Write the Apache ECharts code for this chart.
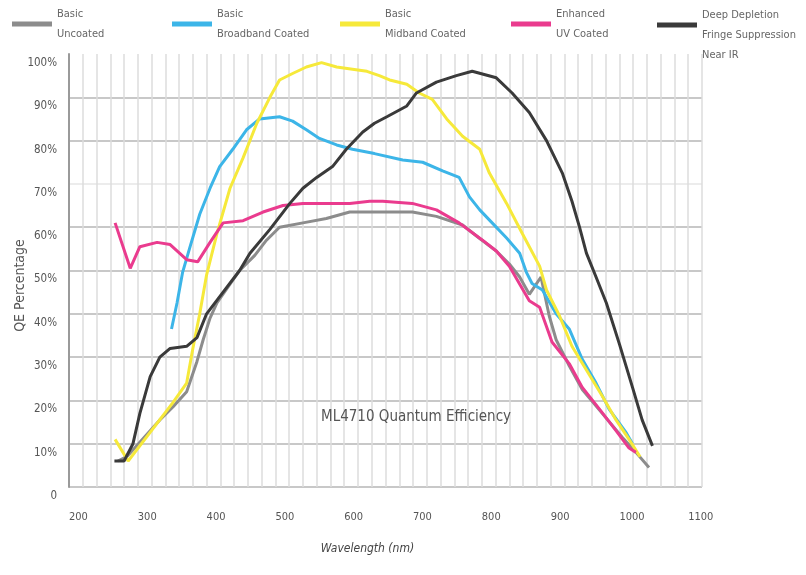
<!DOCTYPE html>
<html>
<head>
<meta charset="utf-8">
<script src="https://cdn.jsdelivr.net/npm/echarts@6/dist/echarts.min.js"></script>
<style>
  html, body { margin: 0; padding: 0; background: #fff; }
  #chart { width: 806px; height: 575px; }
</style>
</head>
<body>
<div id="chart"></div>
<script>
// Quantum efficiency curves (wavelength in nm, QE in %)
const uncoatedWl = [271, 284, 332, 351, 371, 386, 395, 405, 415, 448, 470, 487, 506, 540, 574, 608, 650, 699, 734, 772, 796, 821, 840, 855, 869, 886, 898, 908, 927, 946, 975, 1004, 1024, 1043];
const uncoatedQe = [6, 7, 15.5, 18.5, 22, 29, 34, 39, 42.5, 50, 53.5, 57, 60, 61, 62, 63.5, 63.5, 63.5, 62.5, 60.5, 57.5, 54.5, 51.5, 48.5, 44.5, 48.5, 39.5, 34, 28, 22.5, 17, 11.5, 8, 4.5];

const broadbandWl = [349, 357, 365, 376, 390, 405, 419, 438, 458, 477, 506, 525, 545, 564, 589, 612, 644, 685, 714, 743, 767, 782, 797, 815, 836, 855, 865, 873, 888, 908, 927, 946, 966, 985, 1010, 1019];
const broadbandQe = [36.5, 42.5, 49.5, 55.5, 63, 69, 74, 78, 82.5, 85, 85.5, 84.5, 82.5, 80.5, 79, 78, 77, 75.5, 75, 73, 71.5, 67, 64, 61, 57.5, 54, 49.5, 47, 45.5, 40, 36.5, 29.5, 24, 18, 12.5, 10];

const midbandWl = [267, 286, 351, 371, 380, 390, 400, 415, 434, 453, 473, 492, 506, 525, 545, 567, 589, 612, 633, 651, 666, 691, 709, 728, 749, 772, 797, 811, 836, 859, 884, 894, 913, 931, 952, 975, 995, 1014, 1030];
const midbandQe = [11, 6, 19.5, 24, 32, 40, 49, 58.5, 69, 76, 84, 90, 94, 95.5, 97, 98, 97, 96.5, 96, 95, 94, 93, 91, 89.5, 85, 81, 78, 72.5, 65.5, 58.5, 51, 45.5, 39.5, 32.5, 27, 21, 15.5, 11, 7];

const uvWl = [267, 289, 303, 328, 347, 371, 387, 405, 424, 453, 482, 511, 540, 608, 637, 656, 699, 734, 767, 801, 821, 840, 869, 884, 902, 927, 946, 971, 995, 1014, 1024];
const uvQe = [61, 50.5, 55.5, 56.5, 56, 52.5, 52, 56.5, 61, 61.5, 63.5, 65, 65.5, 65.5, 66, 66, 65.5, 64, 61, 57, 54.5, 51, 43, 41.5, 33.5, 28.5, 23, 18, 13, 9, 8];

const deepWl = [266, 280, 293, 303, 318, 332, 347, 371, 386, 400, 424, 448, 463, 492, 521, 540, 560, 583, 603, 627, 644, 662, 691, 705, 734, 763, 786, 821, 844, 869, 894, 917, 931, 942, 952, 966, 981, 1000, 1019, 1033, 1048];
const deepQe = [6, 6, 10, 17, 25.5, 30, 32, 32.5, 34.5, 40, 45, 50, 54, 59.5, 65.5, 69, 71.5, 74, 78, 82, 84, 85.5, 88, 91, 93.5, 95, 96, 94.5, 91, 86.5, 80, 72.5, 66, 60, 54, 48.5, 42.5, 33, 23, 15.5, 9.5];

const seriesNames = [
  'Basic\nUncoated',
  'Basic\nBroadband Coated',
  'Basic\nMidband Coated',
  'Enhanced\nUV Coated',
  'Deep Depletion\nFringe Suppression\nNear IR'
];
const xTickLabels = [200, 300, 400, 500, 600, 700, 800, 900, 1000, 1100];
const chartTitle = 'ML4710 Quantum Efficiency';
const xAxisName = 'Wavelength (nm)';
const yAxisName = 'QE Percentage';

const curves = [
  [uncoatedWl, uncoatedQe],
  [broadbandWl, broadbandQe],
  [midbandWl, midbandQe],
  [uvWl, uvQe],
  [deepWl, deepQe]
];

const FONT = "'Liberation Sans Narrow', 'DejaVu Sans Condensed', Roboto, sans-serif";
const lineColors = ['#8c8c8c', '#3cb5e8', '#f6e93a', '#ea3b8e', '#3a3a3a'];
const legendLeft = [12, 172, 340, 511, 657];
const legendTop = [4, 4, 4, 4, -15];

const chart = echarts.init(document.getElementById('chart'), null, { renderer: 'canvas' });

// horizontal rules: 70% drawn faint, no rule on the 100% edge
const hLineColors = ['#c8c8c8', '#c8c8c8', '#c8c8c8', '#c8c8c8', '#c8c8c8', '#c8c8c8', '#c8c8c8',
  '#ececec', '#c8c8c8', '#c8c8c8', 'rgba(0,0,0,0)'];

const option = {
  backgroundColor: '#ffffff',
  animation: false,
  title: {
    text: chartTitle,
    left: 316,
    top: 405,
    textStyle: { fontFamily: FONT, fontSize: 15, fontWeight: 'normal', color: '#555' }
  },
  // one legend block per curve; the last block gets a leading blank line so its
  // swatch sits beside the first two lines of its three-line label
  legend: seriesNames.map((name, i) => ({
    data: [name],
    left: legendLeft[i],
    top: legendTop[i],
    padding: 0,
    icon: 'rect',
    itemWidth: 40,
    itemHeight: 5,
    formatter: n => (i === 4 ? '\n' + n : n),
    textStyle: {
      fontFamily: FONT,
      fontSize: 11,
      color: '#666',
      lineHeight: 20
    }
  })),
  grid: { left: 69, right: 104, top: 54, bottom: 88, containLabel: false, outerBoundsMode: 'none' },
  xAxis: {
    type: 'value',
    min: 200,
    max: 1120,
    interval: 20,
    name: xAxisName,
    nameLocation: 'middle',
    nameGap: 56,
    nameMoveOverlap: false,
    nameTextStyle: { fontFamily: FONT, fontSize: 12, fontStyle: 'italic', color: '#444', padding: [0, 36, 0, 0] },
    axisLine: { show: false },
    axisTick: { show: false },
    axisLabel: {
      margin: 25,
      align: 'left',
      fontFamily: FONT,
      fontSize: 11,
      color: '#555',
      formatter: v => (xTickLabels.includes(v) ? String(v) : '')
    },
    splitLine: { show: true, lineStyle: { color: '#dcdcdc', width: 1.5 } }
  },
  yAxis: {
    type: 'value',
    min: 0,
    max: 100,
    interval: 10,
    name: yAxisName,
    nameLocation: 'middle',
    nameGap: 42,
    nameMoveOverlap: false,
    nameTextStyle: { fontFamily: FONT, fontSize: 14, color: '#555', padding: [0, 30, 0, 0] },
    axisLine: { show: true, lineStyle: { color: '#9a9a9a', width: 2 } },
    axisTick: { show: false },
    axisLabel: {
      margin: 12,
      fontFamily: FONT,
      fontSize: 11.5,
      color: '#555',
      verticalAlign: 'top',
      lineHeight: 18,
      formatter: v => (v === 0 ? '0' : v + '%')
    },
    splitLine: { show: true, lineStyle: { color: hLineColors, width: 2 } }
  },
  series: curves.map(([wl, qe], i) => ({
    name: seriesNames[i],
    type: 'line',
    data: wl.map((w, k) => [w, qe[k]]),
    showSymbol: false,
    symbol: 'none',
    lineStyle: { color: lineColors[i], width: 3 },
    itemStyle: { color: lineColors[i] },
    z: 2 + i
  }))
};

chart.setOption(option);
</script>
</body>
</html>
